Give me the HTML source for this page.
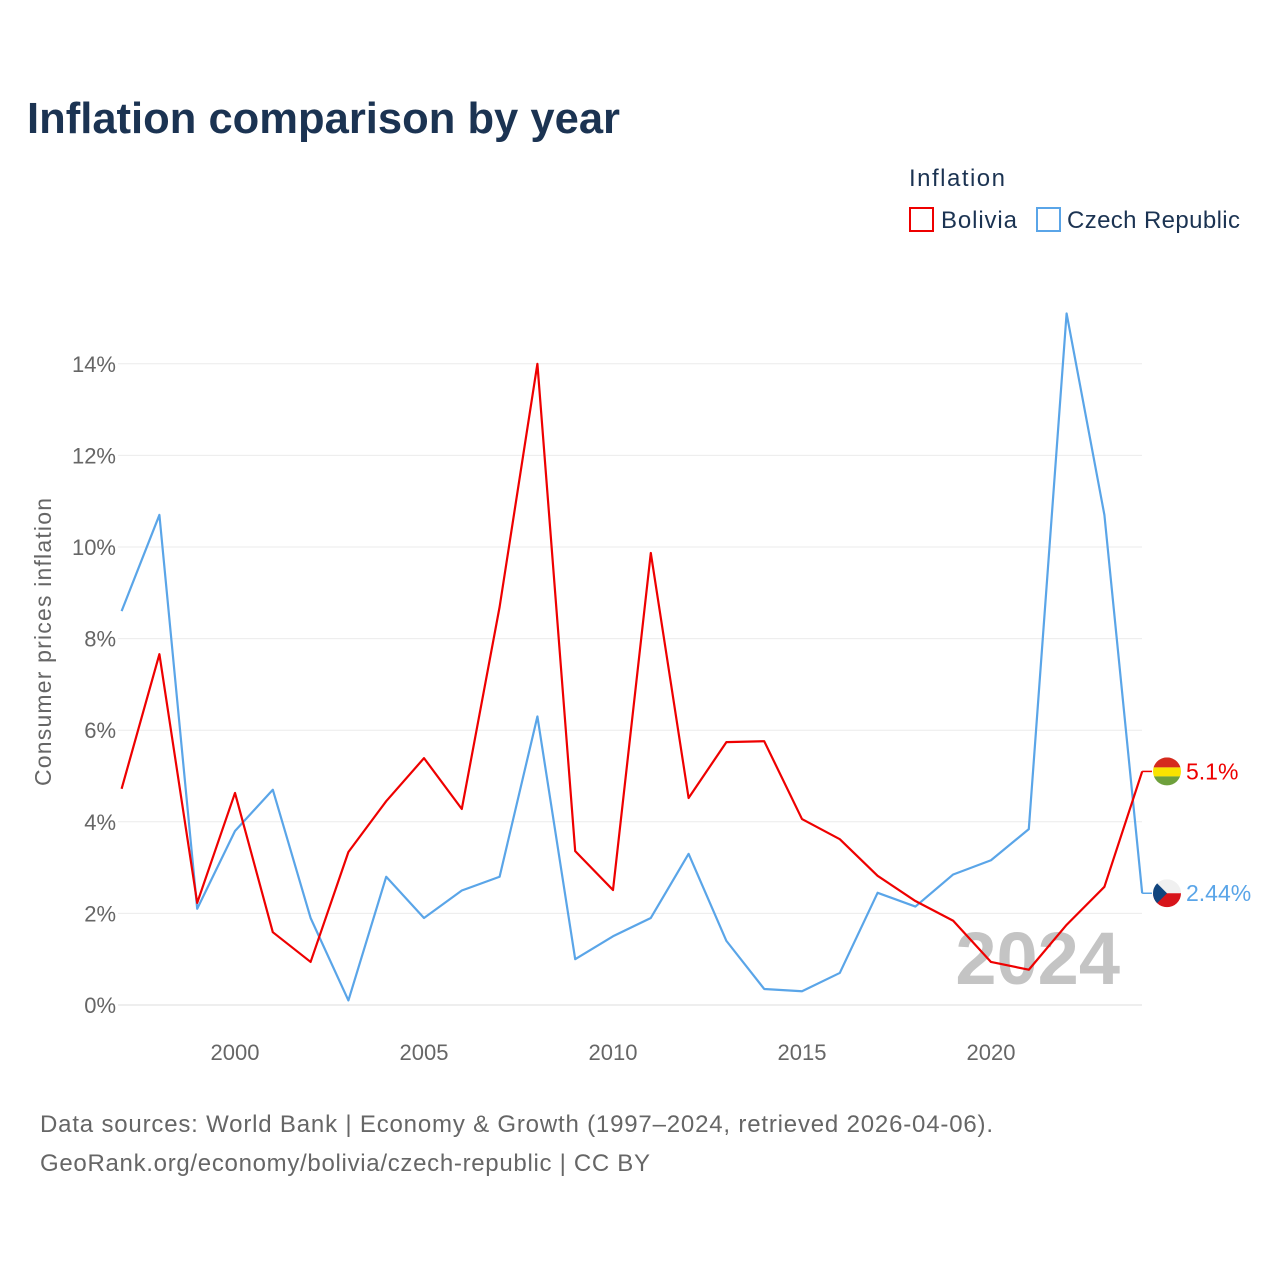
<!DOCTYPE html>
<html><head><meta charset="utf-8"><style>
body{margin:0;background:#fff;font-family:"Liberation Sans",sans-serif;}
svg text{font-family:"Liberation Sans",sans-serif;}
</style></head><body>
<svg id="chart" width="1280" height="1280" viewBox="0 0 1280 1280" xmlns="http://www.w3.org/2000/svg">
<text x="27" y="133" font-size="44" font-weight="bold" fill="#1b3352" textLength="593" lengthAdjust="spacingAndGlyphs">Inflation comparison by year</text>
<text x="909" y="186" font-size="24" fill="#1b3352" textLength="96">Inflation</text>
<g><rect x="910" y="208" width="23" height="23" fill="none" stroke="#ee0000" stroke-width="2"/><text x="941" y="228" font-size="24" fill="#1b3352" textLength="76">Bolivia</text></g>
<g><rect x="1037" y="208" width="23" height="23" fill="none" stroke="#5aa5e8" stroke-width="2"/><text x="1067" y="228" font-size="24" fill="#1b3352" textLength="173">Czech Republic</text></g>
<text transform="translate(51,642) rotate(-90)" text-anchor="middle" font-size="23" fill="#666" textLength="288">Consumer prices inflation</text>
<g id="grid"></g><g id="yticks"></g><g id="xticks"></g>
<text x="1120" y="984" text-anchor="end" font-size="74" font-weight="bold" fill="#c4c4c4">2024</text>
<g id="series"></g>
<text x="40" y="1132" font-size="24" fill="#666" textLength="953">Data sources: World Bank | Economy &amp; Growth (1997–2024, retrieved 2026-04-06).</text>
<text x="40" y="1171" font-size="24" fill="#666" textLength="610">GeoRank.org/economy/bolivia/czech-republic | CC BY</text>
</svg>
<script>
const years=[1997,1998,1999,2000,2001,2002,2003,2004,2005,2006,2007,2008,2009,2010,2011,2012,2013,2014,2015,2016,2017,2018,2019,2020,2021,2022,2023,2024];
const bolivia=[4.72,7.66,2.23,4.63,1.59,0.94,3.34,4.45,5.39,4.28,8.69,14.0,3.36,2.51,9.87,4.52,5.74,5.76,4.06,3.62,2.82,2.27,1.84,0.94,0.77,1.75,2.58,5.1];
const czech=[8.6,10.7,2.1,3.8,4.7,1.9,0.1,2.8,1.9,2.5,2.8,6.3,1.0,1.5,1.9,3.3,1.4,0.35,0.3,0.7,2.45,2.15,2.85,3.16,3.84,15.1,10.7,2.44];
const yTicks=[0,2,4,6,8,10,12,14];
const xTicks=[2000,2005,2010,2015,2020];
const NS="http://www.w3.org/2000/svg";
const x=v=>121.6+(v-1997)*37.8;
const y=v=>1005-v*45.8;
function mk(t,a,p){const e=document.createElementNS(NS,t);for(const k in a)e.setAttribute(k,a[k]);p.appendChild(e);return e;}
const grid=document.getElementById('grid'),yt=document.getElementById('yticks'),xt=document.getElementById('xticks'),s=document.getElementById('series');
yTicks.forEach(v=>{
 const l=mk('line',{x1:118,x2:1142,y1:y(v),y2:y(v),stroke:v==0?'#ddd':'#ebebeb','stroke-width':1},grid);
 
 
 const t=mk('text',{x:116,y:y(v)+8,'text-anchor':'end','font-size':22,fill:'#666'},yt);t.textContent=v+'%';
 
 
});
xTicks.forEach(v=>{
 const t=mk('text',{x:x(v),y:1060,'text-anchor':'middle','font-size':22,fill:'#666'},xt);t.textContent=v;
 
 
});
function line(data,color,name){
 const p=mk('polyline',{points:data.map((v,i)=>x(years[i])+','+y(v)).join(' '),fill:'none',stroke:color,'stroke-width':2.2,'stroke-linejoin':'round'},s);
 
 
}
line(czech,'#5aa5e8','czech-republic-line');
line(bolivia,'#ee0000','bolivia-line');
function endLabel(v,color,name,flag){
 const yy=y(v);
 mk('line',{x1:x(2024),x2:1152,y1:yy,y2:yy,stroke:color,'stroke-width':1.5},s);
 const g=mk('g',{},s);
 
 
 const cx=1167;
 const cp='clip'+name;
 const d=mk('clipPath',{id:cp},g);mk('circle',{cx:cx,cy:yy,r:14},d);
 const f=mk('g',{'clip-path':'url(#'+cp+')'},g);
 if(flag=='bo'){
  mk('rect',{x:cx-14,y:yy-14,width:28,height:10,fill:'#d52b1e'},f);
  mk('rect',{x:cx-14,y:yy-4,width:28,height:9,fill:'#f9e300'},f);
  mk('rect',{x:cx-14,y:yy+5,width:28,height:10,fill:'#6ea03c'},f);
 }else{
  mk('rect',{x:cx-14,y:yy-14,width:28,height:14,fill:'#f0f0f0'},f);
  mk('rect',{x:cx-14,y:yy,width:28,height:14,fill:'#d7141a'},f);
  mk('polygon',{points:(cx-14)+','+(yy-14)+' '+(cx)+','+yy+' '+(cx-14)+','+(yy+14),fill:'#11457e'},f);
 }
 const t=mk('text',{x:1186,y:yy+8,'font-size':23,fill:color},g);t.textContent=(flag=='bo'?v.toFixed(1):v.toFixed(2))+'%';
}
endLabel(bolivia[bolivia.length-1],'#ee0000','bolivia-end-label','bo');
endLabel(czech[czech.length-1],'#5aa5e8','czech-end-label','cz');
</script>
</body></html>
